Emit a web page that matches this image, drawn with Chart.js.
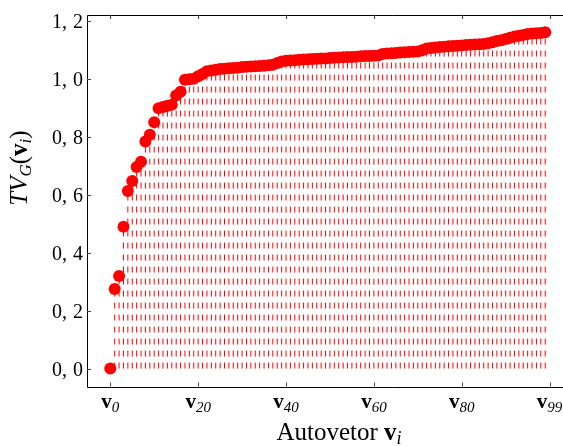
<!DOCTYPE html>
<html><head><meta charset="utf-8">
<script src="https://cdn.jsdelivr.net/npm/chart.js@4/dist/chart.umd.min.js"></script>
<style>
html,body{margin:0;padding:0;overflow:hidden;background:#fff;width:563px;height:446px;}
#wrap{position:relative;width:700px;height:446px;}
</style></head><body>
<div id="wrap"><canvas id="c"></canvas></div>
<script>
// TV_G(v_i) for eigenvectors v0..v99
const tvValues = [
  0.000, 0.275, 0.320, 0.490, 0.614, 0.648, 0.697, 0.715, 0.785, 0.808,
  0.851, 0.900, 0.904, 0.908, 0.912, 0.944, 0.957, 0.998, 1.000, 1.002,
  1.010, 1.018, 1.028, 1.030, 1.033, 1.035, 1.036, 1.038, 1.039, 1.040,
  1.042, 1.043, 1.044, 1.045, 1.046, 1.047, 1.048, 1.050, 1.056, 1.061,
  1.064, 1.065, 1.066, 1.067, 1.068, 1.069, 1.070, 1.071, 1.072, 1.072,
  1.073, 1.074, 1.075, 1.076, 1.077, 1.077, 1.078, 1.079, 1.080, 1.080,
  1.081, 1.082, 1.087, 1.089, 1.090, 1.091, 1.092, 1.093, 1.094, 1.095,
  1.096, 1.100, 1.106, 1.108, 1.110, 1.111, 1.112, 1.114, 1.115, 1.116,
  1.117, 1.118, 1.119, 1.120, 1.121, 1.122, 1.124, 1.128, 1.132, 1.135,
  1.139, 1.143, 1.148, 1.150, 1.153, 1.156, 1.158, 1.159, 1.160, 1.162
];
const xTickValues = [0, 20, 40, 60, 80, 100];
const xTickSubs   = ['0', '20', '40', '60', '80', '99'];
const yTickValues = [0, 0.2, 0.4, 0.6, 0.8, 1.0, 1.2];
const yTickInts   = ['0', '0', '0', '0', '0', '1', '1'];
const yTickDecs   = ['0', '2', '4', '6', '8', '0', '2'];

const RED = '#ff0000';
const SERIF = '"Liberation Serif", "DejaVu Serif", serif';

const markerData = tvValues.map((v, i) => ({x: i, y: v}));
const stemData = [];
tvValues.forEach((v, i) => {
  stemData.push({x: i, y: 0});
  stemData.push({x: i, y: v});
  stemData.push({x: i, y: null});
});

function drawRich(ctx, parts, x, y, align) {
  let total = 0;
  parts.forEach(p => { ctx.font = p.font; p.w = ctx.measureText(p.text).width; total += p.w + (p.gap || 0); });
  let cx = align === 'center' ? x - total / 2 : (align === 'right' ? x - total : x);
  parts.forEach(p => {
    ctx.font = p.font;
    ctx.fillText(p.text, cx, y + (p.dy || 0));
    cx += p.w + (p.gap || 0);
  });
}

const axesPlugin = {
  id: 'axesPlugin',
  afterDatasetsDraw(chart) {
    const {ctx, chartArea: a, scales: {x, y}} = chart;
    const W = chart.width;
    ctx.save();
    // frame: left, bottom, top (right side lies outside the visible window)
    ctx.strokeStyle = '#000';
    ctx.lineWidth = 1;
    ctx.beginPath();
    ctx.moveTo(W, Math.round(a.top) + 0.5);
    ctx.lineTo(Math.round(a.left) + 0.5, Math.round(a.top) + 0.5);
    ctx.lineTo(Math.round(a.left) + 0.5, Math.round(a.bottom) + 0.5);
    ctx.lineTo(W, Math.round(a.bottom) + 0.5);
    ctx.stroke();
    // ticks (inward)
    ctx.strokeStyle = '#444';
    ctx.beginPath();
    xTickValues.forEach(v => {
      const px = Math.round(x.getPixelForValue(v)) + 0.5;
      ctx.moveTo(px, a.bottom); ctx.lineTo(px, a.bottom - 4);
      ctx.moveTo(px, a.top); ctx.lineTo(px, a.top + 4);
    });
    yTickValues.forEach(v => {
      const py = Math.round(y.getPixelForValue(v)) + 0.5;
      ctx.moveTo(a.left, py); ctx.lineTo(a.left + 4, py);
    });
    ctx.stroke();
    // y tick labels ("0, 0" style with math-comma spacing)
    ctx.fillStyle = '#000';
    ctx.textAlign = 'left';
    ctx.textBaseline = 'alphabetic';
    const yf = '20px ' + SERIF;
    yTickValues.forEach((v, k) => {
      const py = y.getPixelForValue(v);
      drawRich(ctx, [
        {text: yTickInts[k], font: yf},
        {text: ',', font: yf, gap: 6},
        {text: yTickDecs[k], font: yf}
      ], a.left - 4, py + 7, 'right');
    });
    // x tick labels: bold v + italic subscript
    xTickValues.forEach((v, k) => {
      const px = x.getPixelForValue(v);
      drawRich(ctx, [
        {text: 'v', font: 'bold 21px ' + SERIF},
        {text: xTickSubs[k], font: 'italic 15px ' + SERIF, dy: 3.5}
      ], px, 408, 'center');
    });
    // x title
    drawRich(ctx, [
      {text: 'Autovetor ', font: '25px ' + SERIF},
      {text: 'v', font: 'bold 25px ' + SERIF},
      {text: 'i', font: 'italic 18px ' + SERIF, dy: 4}
    ], 339, 440, 'center');
    // y title (rotated)
    ctx.save();
    ctx.translate(27, 168);
    ctx.rotate(-Math.PI / 2);
    drawRich(ctx, [
      {text: 'TV', font: 'italic 25px ' + SERIF},
      {text: 'G', font: 'italic 17px ' + SERIF, dy: 4},
      {text: '(', font: '25px ' + SERIF},
      {text: 'v', font: 'bold 25px ' + SERIF},
      {text: 'i', font: 'italic 17px ' + SERIF, dy: 4},
      {text: ')', font: '25px ' + SERIF}
    ], 0, 0, 'center');
    ctx.restore();
    ctx.restore();
  }
};

new Chart(document.getElementById('c'), {
  type: 'scatter',
  data: {
    datasets: [
      {
        type: 'line',
        data: stemData,
        borderColor: RED,
        borderWidth: 1,
        borderDash: [6, 6],
        pointRadius: 0,
        spanGaps: false,
        tension: 0,
        order: 2
      },
      {
        type: 'scatter',
        data: markerData,
        backgroundColor: RED,
        borderColor: RED,
        borderWidth: 0,
        pointRadius: 6,
        order: 1
      }
    ]
  },
  options: {
    responsive: true,
    maintainAspectRatio: false,
    animation: false,
    layout: {padding: {left: 87, top: 15, right: 131.5, bottom: 59.5}},
    plugins: {legend: {display: false}, tooltip: {enabled: false}},
    scales: {
      x: {type: 'linear', display: false, min: -5.3, max: 104.3},
      y: {type: 'linear', display: false, min: -0.062, max: 1.222}
    }
  },
  plugins: [axesPlugin]
});
</script>
</body></html>
